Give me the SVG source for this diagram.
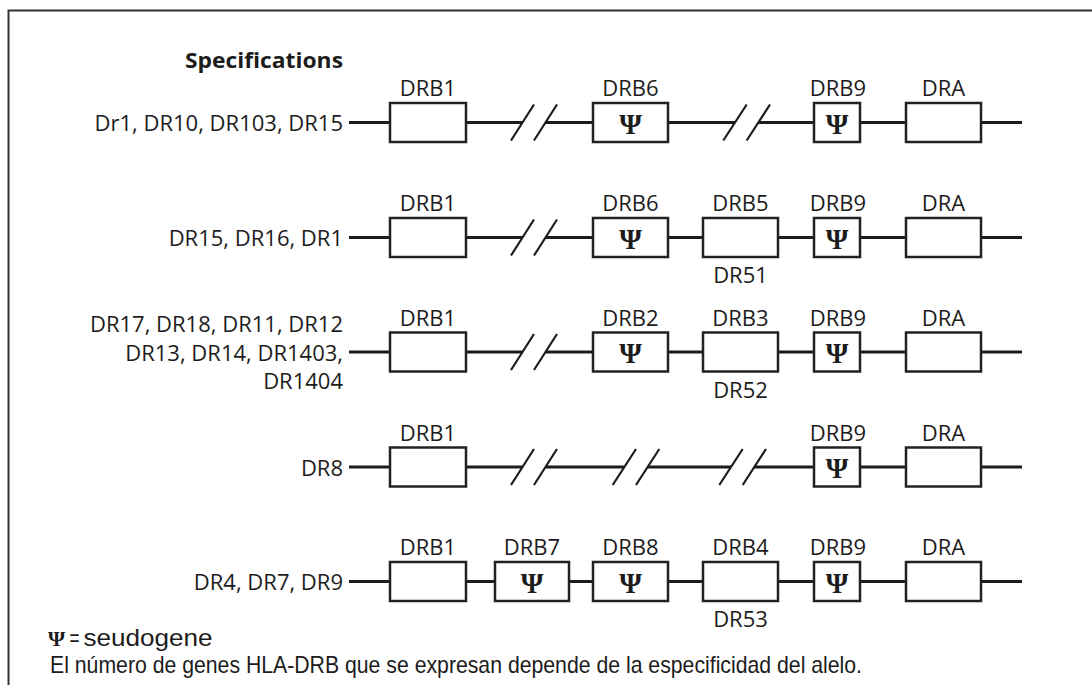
<svg xmlns="http://www.w3.org/2000/svg" width="1092" height="685" viewBox="0 0 1092 685">
<style>
.lbl{font-family:"Open Sans","Noto Sans",sans-serif;font-size:22px;fill:#1c1c1c;text-anchor:middle}
.row{font-family:"Open Sans","Noto Sans",sans-serif;font-size:22px;fill:#1c1c1c;text-anchor:end}
.title{font-family:"Open Sans","Noto Sans",sans-serif;font-size:22px;font-weight:bold;fill:#1c1c1c}
.psi{font-family:"Liberation Serif","DejaVu Serif",serif;font-weight:bold;font-size:29px;fill:#1c1c1c;text-anchor:middle}
.box{fill:#fff;stroke:#222;stroke-width:2.5}
.ln{stroke:#1c1c1c;stroke-width:3;fill:none}
.sl{stroke:#1c1c1c;stroke-width:2.2;fill:none}
.note{font-family:"Liberation Sans Narrow","Liberation Sans",sans-serif;font-size:24px;fill:#1c1c1c}
</style>
<rect width="1092" height="685" fill="#fff"/>
<path d="M8.5,685 V10.5 H1092" fill="none" stroke="#333" stroke-width="2"/>
<text id="title" class="title" x="185" y="68" textLength="158" lengthAdjust="spacingAndGlyphs">Specifications</text>

<g id="connectors">
<path class="ln" d="M349,122.5H390 M466,122.5H522.5 M545.5,122.5H593 M668,122.5H735 M758.3,122.5H814 M860,122.5H906 M981,122.5H1022"/>
<path class="sl" d="M511,140.5L534,104.5 M534,140.5L557,104.5 M723.3,140.5L746.7,104.5 M746.7,140.5L770,104.5"/>
<path class="ln" d="M349,237.5H390 M466,237.5H522.5 M545.5,237.5H593 M668,237.5H703 M778,237.5H814 M860,237.5H906 M981,237.5H1022"/>
<path class="sl" d="M511,255.5L534,219.5 M534,255.5L557,219.5"/>
<path class="ln" d="M349,352H390 M466,352H522.5 M545.5,352H593 M668,352H703 M778,352H814 M860,352H906 M981,352H1022"/>
<path class="sl" d="M511,370L534,334 M534,370L557,334"/>
<path class="ln" d="M349,467H390 M466,467H522.5 M545.5,467H624.3 M647.7,467H731 M754.3,467H814 M860,467H906 M981,467H1022"/>
<path class="sl" d="M511,485L534,449 M534,485L557,449 M612.7,485L636,449 M636,485L659.3,449 M719.3,485L742.7,449 M742.7,485L766,449"/>
<path class="ln" d="M349,581.5H390 M466,581.5H495 M569,581.5H593 M668,581.5H703 M778,581.5H814 M860,581.5H906 M981,581.5H1022"/>
</g>

<g id="r1-label"><text class="row" x="343" y="131">Dr1, DR10, DR103, DR15</text></g>
<g id="r2-label"><text class="row" x="343" y="246">DR15, DR16, DR1</text></g>
<g id="r3-label">
<text class="row" x="343" y="332">DR17, DR18, DR11, DR12</text>
<text class="row" x="343" y="360.5">DR13, DR14, DR1403,</text>
<text class="row" x="343" y="389">DR1404</text>
</g>
<g id="r4-label"><text class="row" x="343" y="475.5">DR8</text></g>
<g id="r5-label"><text class="row" x="343" y="590">DR4, DR7, DR9</text></g>

<g id="r1-drb1"><rect class="box" x="390" y="103" width="76" height="39"/><text class="lbl" x="428" y="96">DRB1</text></g>
<g id="r1-drb6"><rect class="box" x="593" y="103" width="75" height="39"/><text class="lbl" x="630.5" y="96">DRB6</text><text class="psi" x="630.5" y="133.5">Ψ</text></g>
<g id="r1-drb9"><rect class="box" x="814" y="103" width="46" height="39"/><text class="lbl" x="838" y="96">DRB9</text><text class="psi" x="837" y="133.5">Ψ</text></g>
<g id="r1-dra"><rect class="box" x="906" y="103" width="75" height="39"/><text class="lbl" x="943.5" y="96">DRA</text></g>

<g id="r2-drb1"><rect class="box" x="390" y="218" width="76" height="39"/><text class="lbl" x="428" y="211">DRB1</text></g>
<g id="r2-drb6"><rect class="box" x="593" y="218" width="75" height="39"/><text class="lbl" x="630.5" y="211">DRB6</text><text class="psi" x="630.5" y="248.5">Ψ</text></g>
<g id="r2-drb5"><rect class="box" x="703" y="218" width="75" height="39"/><text class="lbl" x="740.5" y="211">DRB5</text><text class="lbl" x="740.5" y="283">DR51</text></g>
<g id="r2-drb9"><rect class="box" x="814" y="218" width="46" height="39"/><text class="lbl" x="838" y="211">DRB9</text><text class="psi" x="837" y="248.5">Ψ</text></g>
<g id="r2-dra"><rect class="box" x="906" y="218" width="75" height="39"/><text class="lbl" x="943.5" y="211">DRA</text></g>

<g id="r3-drb1"><rect class="box" x="390" y="332.5" width="76" height="39"/><text class="lbl" x="428" y="325.5">DRB1</text></g>
<g id="r3-drb2"><rect class="box" x="593" y="332.5" width="75" height="39"/><text class="lbl" x="630.5" y="325.5">DRB2</text><text class="psi" x="630.5" y="363">Ψ</text></g>
<g id="r3-drb3"><rect class="box" x="703" y="332.5" width="75" height="39"/><text class="lbl" x="740.5" y="325.5">DRB3</text><text class="lbl" x="740.5" y="397.5">DR52</text></g>
<g id="r3-drb9"><rect class="box" x="814" y="332.5" width="46" height="39"/><text class="lbl" x="838" y="325.5">DRB9</text><text class="psi" x="837" y="363">Ψ</text></g>
<g id="r3-dra"><rect class="box" x="906" y="332.5" width="75" height="39"/><text class="lbl" x="943.5" y="325.5">DRA</text></g>

<g id="r4-drb1"><rect class="box" x="390" y="447.5" width="76" height="39"/><text class="lbl" x="428" y="440.5">DRB1</text></g>
<g id="r4-drb9"><rect class="box" x="814" y="447.5" width="46" height="39"/><text class="lbl" x="838" y="440.5">DRB9</text><text class="psi" x="837" y="478">Ψ</text></g>
<g id="r4-dra"><rect class="box" x="906" y="447.5" width="75" height="39"/><text class="lbl" x="943.5" y="440.5">DRA</text></g>

<g id="r5-drb1"><rect class="box" x="390" y="562" width="76" height="39"/><text class="lbl" x="428" y="555">DRB1</text></g>
<g id="r5-drb7"><rect class="box" x="495" y="562" width="74" height="39"/><text class="lbl" x="532" y="555">DRB7</text><text class="psi" x="532" y="592.5">Ψ</text></g>
<g id="r5-drb8"><rect class="box" x="593" y="562" width="75" height="39"/><text class="lbl" x="630.5" y="555">DRB8</text><text class="psi" x="630.5" y="592.5">Ψ</text></g>
<g id="r5-drb4"><rect class="box" x="703" y="562" width="75" height="39"/><text class="lbl" x="740.5" y="555">DRB4</text><text class="lbl" x="740.5" y="627">DR53</text></g>
<g id="r5-drb9"><rect class="box" x="814" y="562" width="46" height="39"/><text class="lbl" x="838" y="555">DRB9</text><text class="psi" x="837" y="592.5">Ψ</text></g>
<g id="r5-dra"><rect class="box" x="906" y="562" width="75" height="39"/><text class="lbl" x="943.5" y="555">DRA</text></g>

<g id="legend">
<text class="psi" x="56.5" y="646" style="font-size:22px">Ψ</text>
<text class="note" x="69.5" y="646" textLength="10" lengthAdjust="spacingAndGlyphs">=</text>
<text class="note" x="83.5" y="646" textLength="129" lengthAdjust="spacingAndGlyphs">seudogene</text>
<text class="note" x="50" y="673" textLength="812" lengthAdjust="spacingAndGlyphs">El número de genes HLA-DRB que se expresan depende de la especificidad del alelo.</text>
</g>
</svg>
